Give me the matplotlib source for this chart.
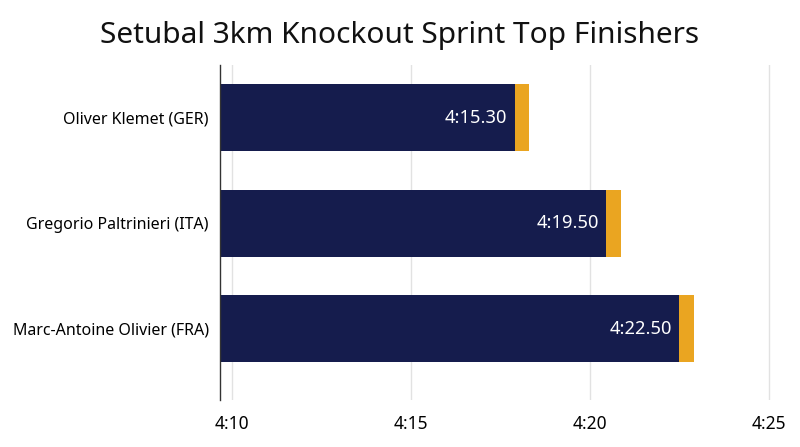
import matplotlib.pyplot as plt
from matplotlib.ticker import FuncFormatter

plt.rcParams['font.family'] = ['Noto Sans', 'DejaVu Sans']

# swimmers, top to bottom
names = ["Oliver Klemet (GER)", "Gregorio Paltrinieri (ITA)", "Marc-Antoine Olivier (FRA)"]
# bar lengths, in seconds
main_secs = [257.9, 260.45, 262.5]
extra_secs = [0.4, 0.42, 0.4]
time_labels = ["4:15.30", "4:19.50", "4:22.50"]
tick_secs = [250, 255, 260, 265]

NAVY = '#151c4d'
ORANGE = '#eaa521'

fig = plt.figure(figsize=(8, 4.47), dpi=100)
ax = fig.add_axes([0.275, 0.1051, 0.706, 0.7494])

left = 249.665
ypos = list(range(len(names)))
widths = [m - left for m in main_secs]
ax.barh(ypos, widths, left=left, height=0.635, color=NAVY, zorder=3)
ax.barh(ypos, extra_secs, left=main_secs, height=0.635, color=ORANGE, zorder=3)

for y, m, lab in zip(ypos, main_secs, time_labels):
    ax.text(m - 0.2, y, lab, color='white', fontsize=13.2,
            ha='right', va='center', zorder=4)

ax.set_xlim(left, 265.45)
ax.set_ylim(2.678, -0.498)
ax.set_yticks(ypos)
ax.set_yticklabels(names, fontsize=11.5)
ax.set_xticks(tick_secs)
ax.xaxis.set_major_formatter(FuncFormatter(lambda v, p: f"{int(v) // 60}:{int(v) % 60:02d}"))
ax.tick_params(axis='x', labelsize=12.5, length=0, pad=11)
ax.tick_params(axis='y', length=0, pad=8)

ax.grid(axis='x', color='#e2e2e2', linewidth=1, zorder=0)
for s in ['top', 'right', 'bottom']:
    ax.spines[s].set_visible(False)
ax.spines['left'].set_color('#333333')
ax.spines['left'].set_linewidth(1)
ax.spines['left'].set_zorder(5)

fig.text(0.5, 0.92, "Setubal 3km Knockout Sprint Top Finishers",
         ha='center', va='center', fontsize=21.5, color='#111111')

fig.savefig('out.png', dpi=100)
